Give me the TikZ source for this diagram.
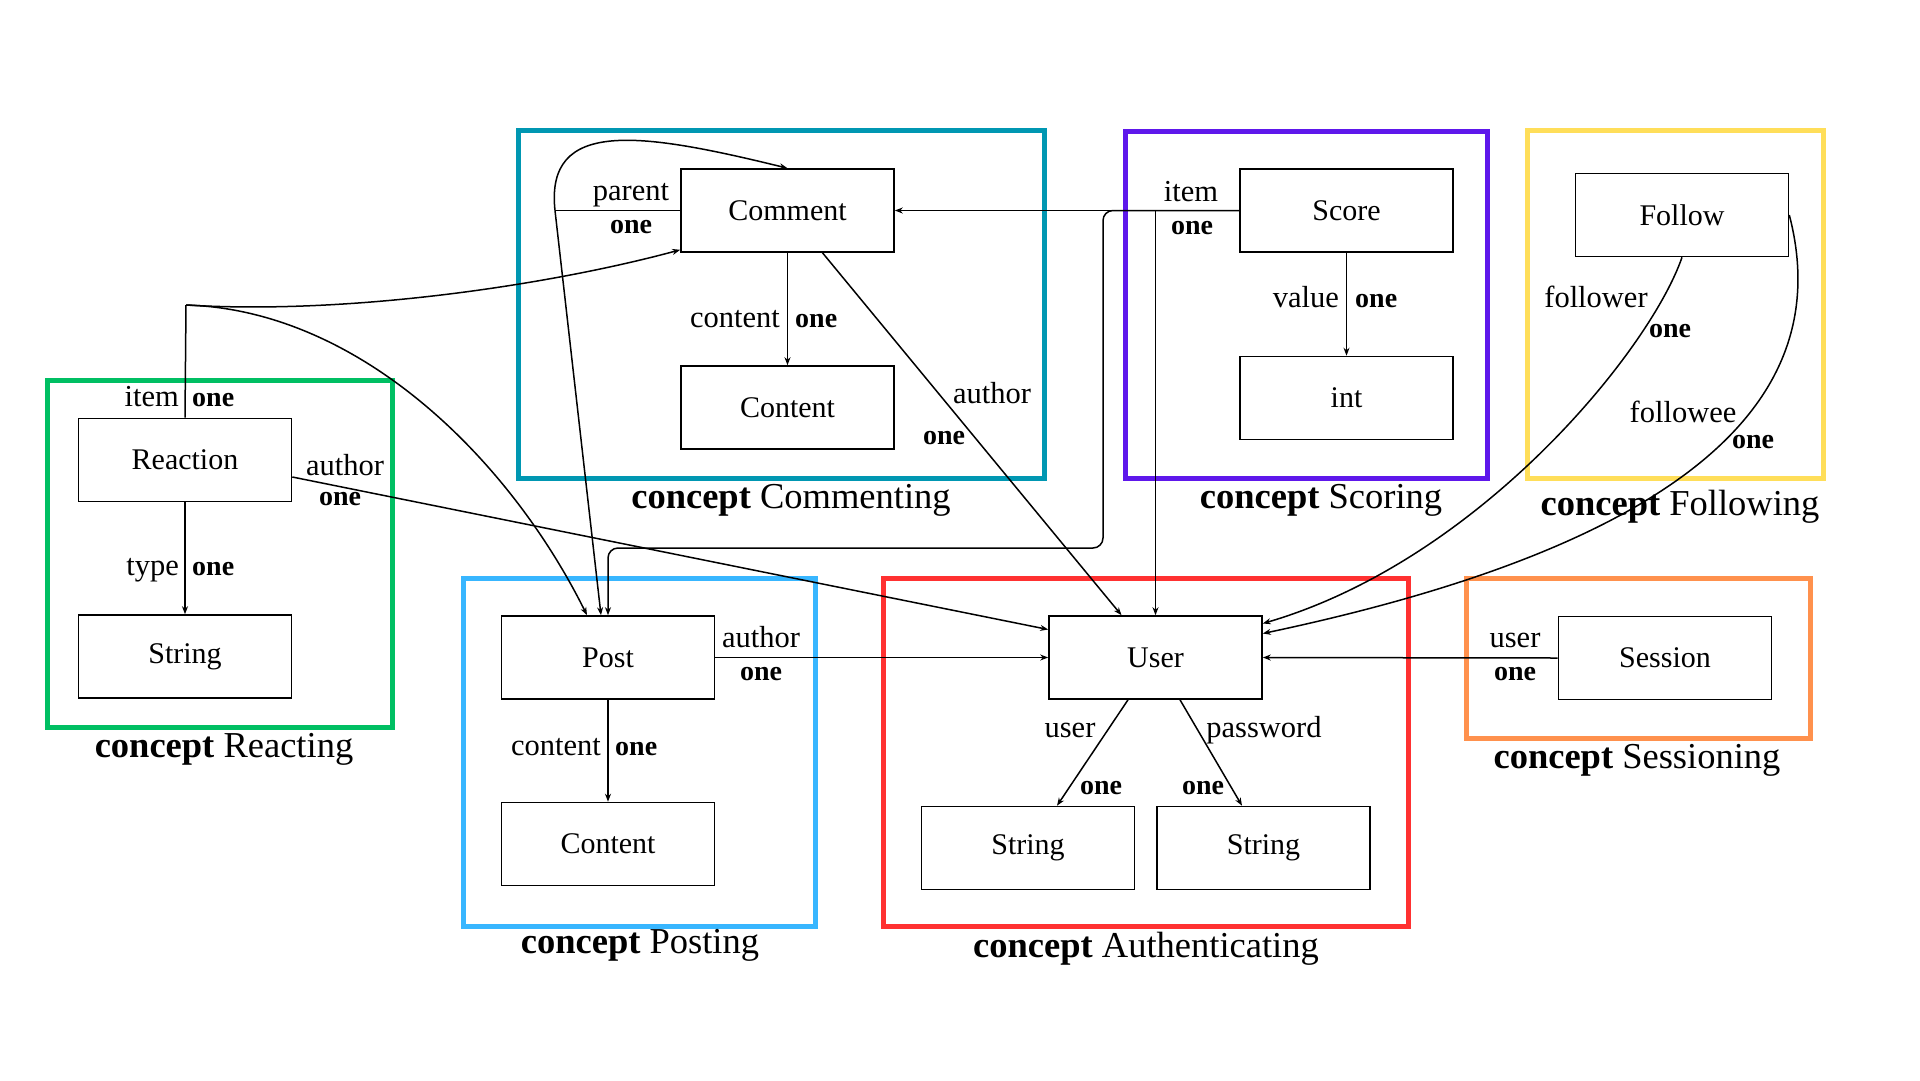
\documentclass[tikz,border=0pt]{standalone}
\usepackage{fontspec}
\setmainfont{Liberation Serif}
\usetikzlibrary{arrows.meta}
\definecolor{cTeal}{HTML}{0097B2}
\definecolor{cPurple}{HTML}{5E17EB}
\definecolor{cYellow}{HTML}{FFDE59}
\definecolor{cGreen}{HTML}{00BF63}
\definecolor{cBlue}{HTML}{38B6FF}
\definecolor{cRed}{HTML}{FF3131}
\definecolor{cOrange}{HTML}{FF914D}
\begin{document}
\begin{tikzpicture}[x=1pt,y=-1pt,
  box/.style={draw, rectangle, line width=1.6pt, minimum width=213pt, minimum height=83pt, inner sep=0pt, font=\fontsize{30}{35}\selectfont},
  frame/.style={draw, rectangle, line width=5pt, inner sep=0pt},
  conn/.style={line width=1.5pt, -{Stealth[length=8pt,width=6pt]}},
  plain/.style={line width=1.5pt},
  lab/.style={inner sep=0pt, anchor=base, font=\fontsize{30.5}{35}\selectfont},
  onelab/.style={inner sep=0pt, anchor=base, font=\fontsize{28}{32}\selectfont\bfseries},
  ctitle/.style={inner sep=0pt, anchor=base, font=\fontsize{36.5}{42}\selectfont}
]
\useasboundingbox (0,0) rectangle (1920,1080);

% concept frames
\node[frame, draw=cTeal,   minimum width=526pt, minimum height=348pt] (fCommenting) at (781,304) {};
\node[frame, draw=cPurple, minimum width=362pt, minimum height=347pt] (fScoring) at (1306,304.5) {};
\node[frame, draw=cYellow, minimum width=296pt, minimum height=348pt] (fFollowing) at (1675,304) {};
\node[frame, draw=cGreen,  minimum width=345pt, minimum height=347pt] (fReacting) at (219.5,553.5) {};
\node[frame, draw=cBlue,   minimum width=352pt, minimum height=348pt] (fPosting) at (639,752) {};
\node[frame, draw=cRed,    minimum width=525pt, minimum height=348pt] (fAuth) at (1145.5,752) {};
\node[frame, draw=cOrange, minimum width=344pt, minimum height=160pt] (fSessioning) at (1638,658) {};

% concept titles
\node[ctitle] (tCommenting) at (791,508) {\textbf{concept} Commenting};
\node[ctitle] (tScoring) at (1321,508) {\textbf{concept} Scoring};
\node[ctitle] (tFollowing) at (1680,515) {\textbf{concept} Following};
\node[ctitle] (tReacting) at (224,757) {\textbf{concept} Reacting};
\node[ctitle] (tPosting) at (640,953) {\textbf{concept} Posting};
\node[ctitle] (tAuth) at (1146,957) {\textbf{concept} Authenticating};
\node[ctitle] (tSessioning) at (1637,768) {\textbf{concept} Sessioning};

% nodes
\node[box] (Comment) at (787.5,210.5) {Comment};
\node[box] (CContent) at (787.5,407.5) {Content};
\node[box] (Score) at (1346.5,210.5) {Score};
\node[box] (Int) at (1346.5,398) {int};
\node[box] (Follow) at (1682,215) {Follow};
\node[box] (Reaction) at (185,460) {Reaction};
\node[box] (RString) at (185,656.5) {String};
\node[box] (Post) at (608,657.5) {Post};
\node[box] (PContent) at (608,844) {Content};
\node[box] (User) at (1155.5,657.5) {User};
\node[box] (UString) at (1028,848) {String};
\node[box] (PString) at (1263.5,848) {String};
\node[box] (Session) at (1665,658) {Session};

% junction coordinates
\coordinate (pJ) at (555,210.5);
\coordinate (rI) at (186,305);
\coordinate (sA) at (1103,210.5);
\coordinate (sC) at (1103,548);

% Commenting
\draw[conn] (Comment.south) -- (CContent.north);
\draw[plain] (Comment.west) -- (pJ);
\draw[conn] (pJ) .. controls (545,118) and (640,132) .. (Comment.north);
\draw[conn] (pJ) -- ([xshift=-7pt]Post.north);
\draw[conn] ([xshift=35pt]Comment.south) -- ([xshift=-34pt]User.north);

% Scoring
\draw[conn] (Score.south) -- (Int.north);
\draw[conn] (Score.west) -- (Comment.east);
\draw[conn] (User.north |- Score.west) -- (User.north);
\draw[conn, rounded corners=10pt] (Score.west) -- (sA) -- (sC) -- (Post.north |- sC) -- (Post.north);

% Following
\draw[conn] (Follow.south) .. controls (1650,350) and (1480,560) .. ([yshift=34pt]User.east);
\draw[conn] (Follow.east) .. controls (1835,390) and (1705,540) .. ([yshift=24pt]User.east);

% Reacting
\draw[plain] (Reaction.north) -- (rI);
\draw[conn] (rI) .. controls (350,315) and (550,285) .. ([yshift=3pt]Comment.south west);
\draw[conn] (rI) .. controls (360,310) and (510,460) .. ([xshift=-21pt]Post.north);
\draw[conn] (Reaction.south) -- (RString.north);
\draw[conn] ([yshift=-17pt]Reaction.east) -- ([yshift=28pt]User.west);

% Posting
\draw[conn] (Post.south) -- (PContent.north);
\draw[conn] (Post.east) -- (User.west);

% Authenticating
\draw[conn] ([xshift=-27.5pt]User.south) -- ([xshift=29pt]UString.north);
\draw[conn] ([xshift=24.5pt]User.south) -- ([xshift=-21.5pt]PString.north);

% Sessioning
\draw[conn] (Session.west) -- (User.east);

% labels
\node[lab] (lParent) at (631,200) {parent};
\node[onelab] (oParent) at (631,233) {one};
\node[lab, anchor=base east] (lCContent) at (780,327) {content};
\node[onelab, anchor=base west] (oCContent) at (795,327) {one};
\node[lab] (lCAuthor) at (992,403) {author};
\node[onelab] (oCAuthor) at (944,444) {one};
\node[lab] (lSItem) at (1191,201) {item};
\node[onelab] (oSItem) at (1192,234) {one};
\node[lab, anchor=base east] (lValue) at (1339,307) {value};
\node[onelab, anchor=base west] (oValue) at (1355,307) {one};
\node[lab] (lFollower) at (1596,307) {follower};
\node[onelab] (oFollower) at (1670,337) {one};
\node[lab] (lFollowee) at (1683,422) {followee};
\node[onelab] (oFollowee) at (1753,448) {one};
\node[lab, anchor=base east] (lRItem) at (179,406) {item};
\node[onelab, anchor=base west] (oRItem) at (192,406) {one};
\node[lab] (lRAuthor) at (345,475) {author};
\node[onelab] (oRAuthor) at (340,505) {one};
\node[lab, anchor=base east] (lType) at (179,575) {type};
\node[onelab, anchor=base west] (oType) at (192,575) {one};
\node[lab, anchor=base east] (lPContent) at (601,755) {content};
\node[onelab, anchor=base west] (oPContent) at (615,755) {one};
\node[lab] (lPAuthor) at (761,647) {author};
\node[onelab] (oPAuthor) at (761,680) {one};
\node[lab] (lUser) at (1070,737) {user};
\node[onelab] (oUser) at (1101,794) {one};
\node[lab] (lPassword) at (1264,737) {password};
\node[onelab] (oPassword) at (1203,794) {one};
\node[lab] (lSUser) at (1515,647) {user};
\node[onelab] (oSUser) at (1515,680) {one};
\end{tikzpicture}
\end{document}
